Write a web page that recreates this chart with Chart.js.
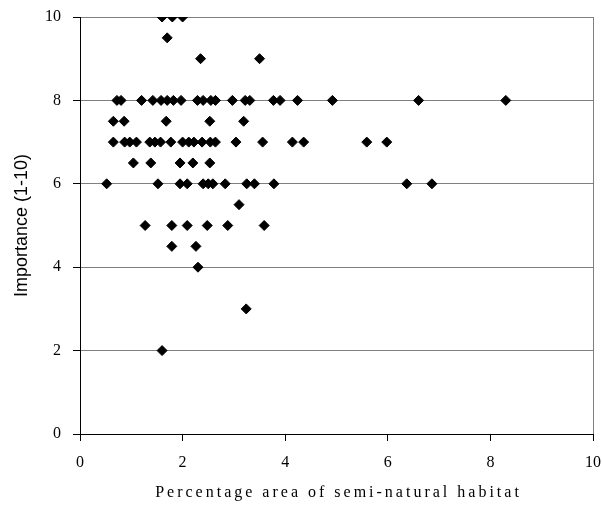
<!DOCTYPE html>
<html>
<head>
<meta charset="utf-8">
<script src="https://cdn.jsdelivr.net/npm/chart.js@4.4.1/dist/chart.umd.min.js"></script>
<style>
  html, body { margin: 0; padding: 0; background: #fff; }
  #wrap { width: 602px; height: 512px; position: relative; }
</style>
</head>
<body>
<div id="wrap"><canvas id="scatterChart"></canvas></div>
<script>
// Importance score (y) and the % area of semi-natural habitat (x)
const area10 = [1.6, 1.8, 2.0];
const area9_5 = [1.7];
const area9 = [2.35, 3.5];
const area8 = [0.72, 0.8, 1.2, 1.42, 1.58, 1.7, 1.82, 1.97, 2.29, 2.4, 2.55, 2.64, 2.97, 3.22, 3.31, 3.77, 3.9, 4.24, 4.92, 6.6, 8.3];
const area7_5 = [0.65, 0.86, 1.68, 2.53, 3.19];
const area7 = [0.65, 0.87, 0.97, 1.1, 1.36, 1.46, 1.57, 1.77, 2.0, 2.12, 2.22, 2.38, 2.54, 2.64, 3.04, 3.56, 4.14, 4.36, 5.59, 5.98];
const area6_5 = [1.04, 1.38, 1.95, 2.2, 2.53];
const area6 = [0.52, 1.52, 1.95, 2.09, 2.4, 2.5, 2.59, 2.83, 3.25, 3.4, 3.78, 6.37, 6.86];
const area5_5 = [3.1];
const area5 = [1.27, 1.79, 2.09, 2.48, 2.88, 3.59];
const area4_5 = [1.79, 2.26];
const area4 = [2.3];
const area3 = [3.24];
const area2 = [1.6];

const importanceLevels = [10, 9.5, 9, 8, 7.5, 7, 6.5, 6, 5.5, 5, 4.5, 4, 3, 2];
const areasByLevel = [area10, area9_5, area9, area8, area7_5, area7, area6_5, area6, area5_5, area5, area4_5, area4, area3, area2];

const xTitle = 'Percentage area of semi-natural habitat';
const yTitle = 'Importance (1-10)';

const points = [];
importanceLevels.forEach((lvl, i) => {
  areasByLevel[i].forEach(a => points.push({ x: a, y: lvl }));
});

// x title in the original is spaced out, draw it ourselves with letter spacing
const xTitlePlugin = {
  id: 'xTitle',
  afterDraw(chart) {
    const { ctx, chartArea } = chart;
    ctx.save();
    ctx.font = '16px "Liberation Serif", "Times New Roman", serif';
    if ('letterSpacing' in ctx) ctx.letterSpacing = '3px';
    ctx.fillStyle = '#000';
    ctx.textAlign = 'center';
    ctx.textBaseline = 'middle';
    ctx.fillText(xTitle, (chartArea.left + chartArea.right) / 2 + 2, 493);
    ctx.restore();
  }
};

const tickFont = { family: '"Liberation Serif", "Times New Roman", serif', size: 16 };

// fixed box sizes so the plot area lands where the original's does
const fixX = s => { s.height = 78; s.paddingLeft = 0; s.paddingRight = 0; };
const fixY = s => { s.width = 80; s.paddingTop = 0; s.paddingBottom = 0; };

new Chart(document.getElementById('scatterChart'), {
  type: 'scatter',
  data: {
    datasets: [{
      data: points,
      pointStyle: 'rectRot',
      pointRadius: 5,
      pointHoverRadius: 5,
      backgroundColor: '#000',
      borderColor: '#000',
      borderWidth: 1
    }]
  },
  options: {
    responsive: true,
    maintainAspectRatio: false,
    animation: false,
    layout: { padding: { top: 17, right: 9, bottom: 0, left: 0 } },
    plugins: {
      legend: { display: false },
      tooltip: { enabled: false }
    },
    scales: {
      x: {
        type: 'linear',
        min: 0,
        max: 10,
        ticks: { stepSize: 2, color: '#000', font: tickFont, padding: 12, maxRotation: 0 },
        grid: {
          color: c => (c.tick && c.tick.value === 10) ? '#808080' : 'rgba(0,0,0,0)',
          tickColor: '#000',
          tickLength: 7,
          lineWidth: 1
        },
        border: { color: '#000', width: 1 },
        afterFit: fixX
      },
      y: {
        type: 'linear',
        min: 0,
        max: 10,
        ticks: { stepSize: 2, color: '#000', font: tickFont, padding: 12 },
        grid: { color: '#808080', tickColor: '#000', tickLength: 7, lineWidth: 1 },
        border: { color: '#000', width: 1 },
        title: {
          display: true,
          text: yTitle,
          color: '#000',
          font: { family: '"Liberation Sans", Arial, sans-serif', size: 18 },
          padding: { top: 11, bottom: 0 }
        },
        afterFit: fixY
      }
    }
  },
  plugins: [xTitlePlugin]
});
</script>
</body>
</html>
